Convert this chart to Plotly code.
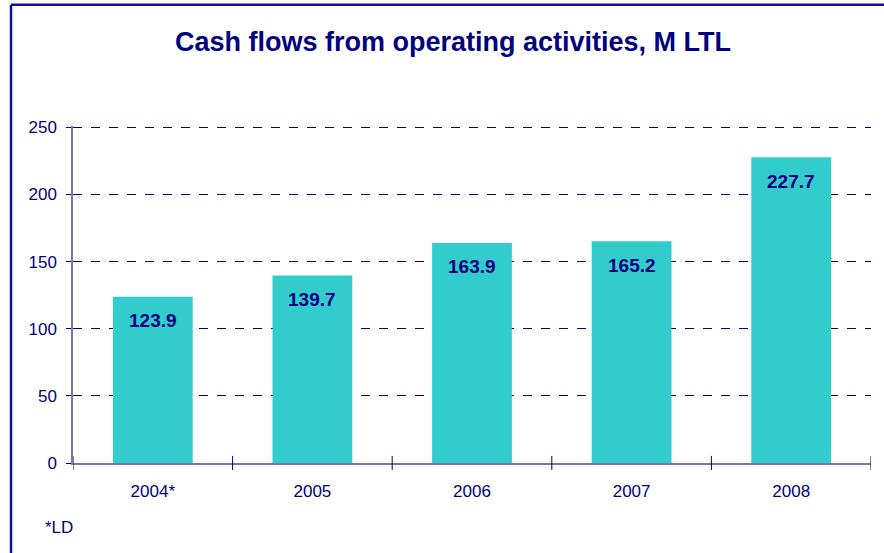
import plotly.graph_objects as go

years = ["2004*", "2005", "2006", "2007", "2008"]
cash_flows = [123.9, 139.7, 163.9, 165.2, 227.7]
y_ticks = [0, 50, 100, 150, 200, 250]

NAVY = "#000080"
BAR = "#33CCCC"
FONT = "Liberation Sans, Arial, sans-serif"

fig = go.Figure()
fig.add_trace(go.Bar(
    x=years, y=cash_flows, marker=dict(color=BAR, line=dict(width=0)),
    hoverinfo="x+y", showlegend=False,
))

for i, v in enumerate(cash_flows):
    fig.add_annotation(x=i, y=v, text=f"<b>{v:.1f}</b>", showarrow=False,
                       yshift=-24, font=dict(family=FONT, size=19, color=NAVY))

# crossing tick marks at category boundaries
for k in range(len(years) + 1):
    fig.add_shape(type="line", xref="x", yref="paper", x0=k - 0.5, x1=k - 0.5,
                  y0=-0.021, y1=0.021, line=dict(color=NAVY, width=1))

fig.add_annotation(xref="paper", yref="paper", x=-0.038, y=-0.19, text="*LD",
                   showarrow=False, xanchor="left", yanchor="middle",
                   font=dict(family=FONT, size=17, color=NAVY))

# chart frame (left and top edges)
fig.add_shape(type="line", xref="paper", yref="paper", x0=-0.0777, x1=-0.0777,
              y0=1.36, y1=-0.3, line=dict(color="#1010A0", width=2.5))
fig.add_shape(type="line", xref="paper", yref="paper", x0=-0.0777, x1=1.02,
              y0=1.36, y1=1.36, line=dict(color="#1010A0", width=2.5))

fig.update_layout(
    width=884, height=553,
    margin=dict(l=73, r=13, t=126, b=90),
    paper_bgcolor="white", plot_bgcolor="white",
    font=dict(family=FONT, color=NAVY),
    title=dict(text="<b>Cash flows from operating activities, M LTL</b>",
               x=0.5125, xanchor="center", y=0.924, yanchor="middle",
               font=dict(family=FONT, size=27, color=NAVY)),
    bargap=0.5,
    xaxis=dict(
        type="category", range=[-0.5, 4.5], ticks="",
        showline=True, linecolor="#7777BB",
        linewidth=2, showgrid=False, tickangle=0, automargin=False,
        tickfont=dict(family=FONT, size=17, color=NAVY),
        ticklabelstandoff=12,
    ),
    yaxis=dict(
        range=[0, 251], tickvals=y_ticks, ticks="outside", ticklen=5,
        tickcolor=NAVY, showline=True, linecolor="#7777BB", linewidth=1.5,
        showgrid=True, gridcolor=NAVY, griddash="dash", gridwidth=1,
        zeroline=False, automargin=False,
        tickfont=dict(family=FONT, size=17, color=NAVY),
        ticklabelstandoff=6,
    ),
)

fig.write_html("out.html", config={"displayModeBar": False},
               post_script="document.body.style.margin='0';document.body.style.overflow='hidden';")
